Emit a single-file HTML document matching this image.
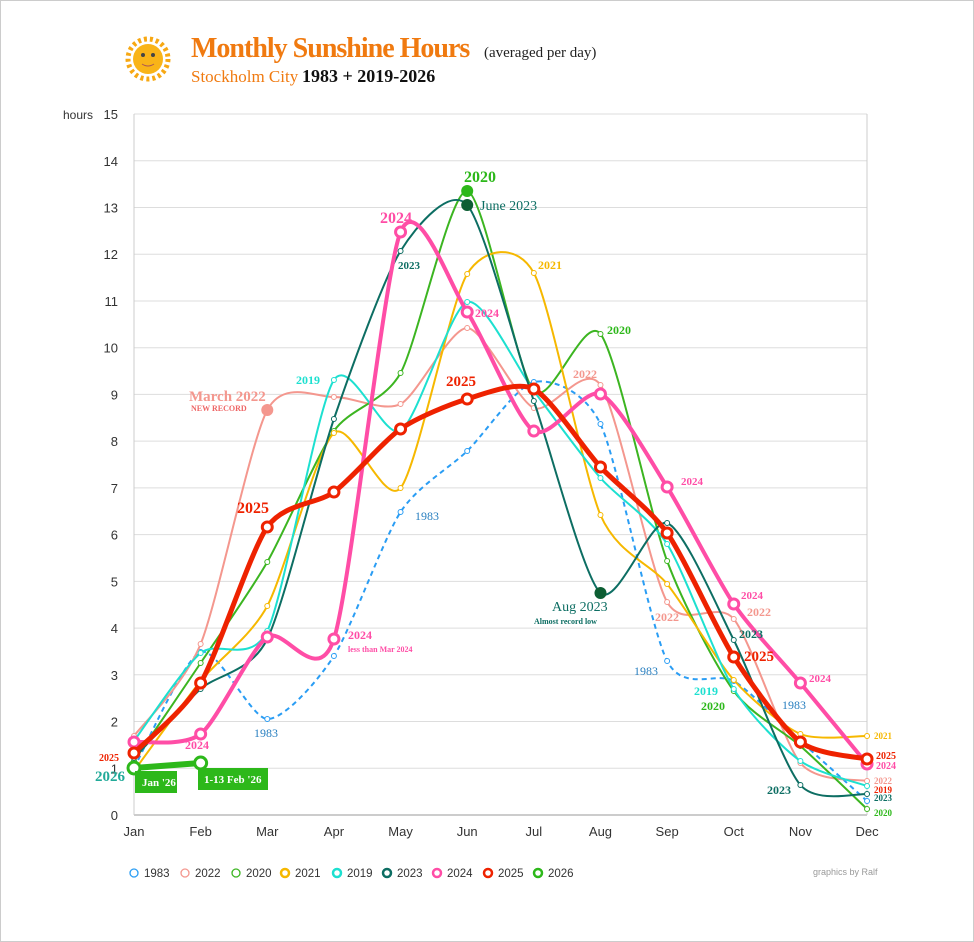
<!DOCTYPE html>
<html><head><meta charset="utf-8"><style>
body{margin:0;background:#fff;}
#wrap{position:relative;width:972px;height:940px;border:1px solid #ccc;overflow:hidden;font-family:"Liberation Sans",sans-serif;}
</style></head><body><div id="wrap">
<svg id="s" width="972" height="940" xmlns="http://www.w3.org/2000/svg" style="position:absolute;left:0;top:0">
<g font-family="Liberation Serif,serif">
<circle cx="147" cy="58" r="15" fill="#f9b418"/>
<circle cx="147" cy="58" r="20" fill="none" stroke="#f7a813" stroke-width="5" stroke-dasharray="3 3"/>
<circle cx="142" cy="54" r="2" fill="#444"/><circle cx="152" cy="54" r="2" fill="#444"/>
<path d="M141 63 Q147 67 153 63" stroke="#a55" fill="none"/>
<text x="190" y="56" font-size="28" font-weight="bold" fill="#f07a10" letter-spacing="-1">Monthly Sunshine Hours</text>
<text x="483" y="56" font-size="15" fill="#222">(averaged per day)</text>
<text x="190" y="81" font-size="17" fill="#f07a10">Stockholm City</text>
<text x="301" y="81" font-size="18" font-weight="bold" fill="#111">1983 + 2019-2026</text>
</g>
<g id="grid"></g>
<g id="lines"></g>
<g id="ann" font-family="Liberation Serif,serif" font-weight="bold"></g>
<g font-size="12" fill="#333">
<text x="62" y="118">hours</text>
</g>
<g id="leg" font-size="11.5" fill="#333"></g>
<text x="812" y="874" font-size="9" fill="#999">graphics by Ralf</text>
</svg>
<script>
const X=i=>133+66.64*i, Y=v=>814-46.73*v;
const ns="http://www.w3.org/2000/svg";
function el(p,t,a,txt){const e=document.createElementNS(ns,t);for(const k in a)e.setAttribute(k,a[k]);if(txt!==undefined)e.textContent=txt;document.getElementById(p).appendChild(e);return e;}
for(let v=0;v<=15;v++){el("grid","line",{x1:133,x2:866,y1:Y(v),y2:Y(v),stroke:v==0?"#999":"#ddd"});el("grid","text",{x:117,y:Y(v)+5,"text-anchor":"end","font-size":13,fill:"#333"},v);}
el("grid","line",{x1:133,x2:133,y1:113,y2:814,stroke:"#ccc"});el("grid","line",{x1:866,x2:866,y1:113,y2:814,stroke:"#ccc"});
const M=["Jan","Feb","Mar","Apr","May","Jun","Jul","Aug","Sep","Oct","Nov","Dec"];
M.forEach((m,i)=>el("grid","text",{x:X(i),y:835,"text-anchor":"middle","font-size":13,fill:"#333"},m));
const S=[
["1983","#2a9df4",2,[767,651,718,655,511,450,381,423,660,680,740,800],1],
["2022","#f4978e",2,[735,643,409,396,403,327,407,384,601,618,762,780]],
["2020","#3cb521",2,[760,662,561,430,372,190,390,333,560,690,745,808]],
["2021","#f6b800",2,[770,680,605,432,487,273,272,514,583,679,733,735]],
["2019","#1de0d0",2,[740,652,630,379,430,301,390,477,543,688,760,785]],
["2023","#0d6e63",2,[757,688,638,418,250,204,400,592,522,639,784,793]],
["2024","#ff4da6",4,[741,733,636,638,231,311,430,393,486,603,682,763]],
["2025","#ee2200",5,[752,682,526,491,428,398,388,466,532,656,741,758]]];
function path(ys){let d=`M${X(0)},${ys[0]}`;for(let i=0;i<ys.length-1;i++){const p0=[X(i-1<0?0:i-1),ys[Math.max(0,i-1)]],p1=[X(i),ys[i]],p2=[X(i+1),ys[i+1]],p3=[X(Math.min(11,i+2)),ys[Math.min(11,i+2)]];const t=8;d+=` C${p1[0]+(p2[0]-p0[0])/t},${p1[1]+(p2[1]-p0[1])/t} ${p2[0]-(p3[0]-p1[0])/t},${p2[1]-(p3[1]-p1[1])/t} ${p2[0]},${p2[1]}`;}return d;}
S.forEach(s=>{el("lines","path",{d:path(s[3]),fill:"none",stroke:s[1],"stroke-width":s[2],"stroke-dasharray":s[4]?"5 4":"none"});
s[3].forEach((y,i)=>el("lines","circle",{cx:X(i),cy:y,r:s[2]>=4?5:2.5,fill:"#fff",stroke:s[1],"stroke-width":s[2]>=4?3:1}));});
el("lines","line",{x1:X(0),y1:767,x2:X(1),y2:762,stroke:"#2db81a","stroke-width":6});
[[X(0),767],[X(1),762]].forEach(p=>el("lines","circle",{cx:p[0],cy:p[1],r:6,fill:"#fff",stroke:"#2db81a","stroke-width":3}));
el("lines","circle",{cx:X(5),cy:190,r:6,fill:"#2db81a"});el("lines","circle",{cx:X(5),cy:204,r:6,fill:"#0d5e33"});
el("lines","circle",{cx:X(7),cy:592,r:6,fill:"#0d5e33"});el("lines","circle",{cx:X(2),cy:409,r:6,fill:"#f4978e"});
el("lines","rect",{x:134,y:770,width:42,height:22,fill:"#2db81a"});el("lines","rect",{x:197,y:767,width:70,height:22,fill:"#2db81a"});
const A=[[141,785,"Jan '26","#fff",11],[203,782,"1-13 Feb '26","#fff",11],[94,780,"2026","#2a9",15],[98,760,"2025","#e20",10],
[463,181,"2020","#2db81a",16],[479,209,"June 2023","#0d6e63",14,"normal"],[379,222,"2024","#ff4da6",16],[397,268,"2023","#0d6e63",11],
[537,268,"2021","#f6b800",12],[606,333,"2020","#2db81a",12],[474,316,"2024","#ff4da6",12],[445,385,"2025","#e20",15],[572,377,"2022","#f4978e",12],
[188,400,"March 2022","#f4978e",15],[190,410,"NEW RECORD","#e66",8],[236,512,"2025","#e20",16],[295,383,"2019","#1de0d0",12],[414,519,"1983","#2a80c0",12,"normal"],
[347,638,"2024","#ff4da6",12],[347,651,"less than Mar 2024","#ff4da6",8],[551,610,"Aug 2023","#0d6e63",14,"normal"],[533,623,"Almost record low","#0d6e63",8],
[680,484,"2024","#ff4da6",11],[654,620,"2022","#f4978e",12],[740,598,"2024","#ff4da6",11],[746,615,"2022","#f4978e",12],[738,637,"2023","#0d6e63",12],[743,660,"2025","#e20",15],
[633,674,"1983","#2a80c0",12,"normal"],[693,694,"2019","#1de0d0",12],[700,709,"2020","#2db81a",12],[781,708,"1983","#2a80c0",12,"normal"],[808,681,"2024","#ff4da6",11],
[766,793,"2023","#0d6e63",12],[184,748,"2024","#ff4da6",12],[253,736,"1983","#2a80c0",12,"normal"],
[875,758,"2025","#e20",10],[875,768,"2024","#ff4da6",10],[873,738,"2021","#f6b800",9],[873,783,"2022","#f4978e",9],[873,792,"2019","#e20",9],[873,800,"2023","#0d6e63",9],[873,815,"2020","#2db81a",9]];
A.forEach(a=>el("ann","text",{x:a[0],y:a[1],fill:a[3],"font-size":a[4],"font-weight":a[5]||"bold"},a[2]));
const L=[["1983","#2a9df4"],["2022","#f4978e"],["2020","#3cb521"],["2021","#f6b800"],["2019","#1de0d0"],["2023","#0d6e63"],["2024","#ff4da6"],["2025","#ee2200"],["2026","#2db81a"]];
const lx=[133,184,235,284,336,386,436,487,537];
L.forEach((l,i)=>{el("leg","circle",{cx:lx[i],cy:872,r:4,fill:"#fff",stroke:l[1],"stroke-width":i<3?1.3:2.5});el("leg","text",{x:lx[i]+10,y:876},l[0]);});
</script>
</div></body></html>
